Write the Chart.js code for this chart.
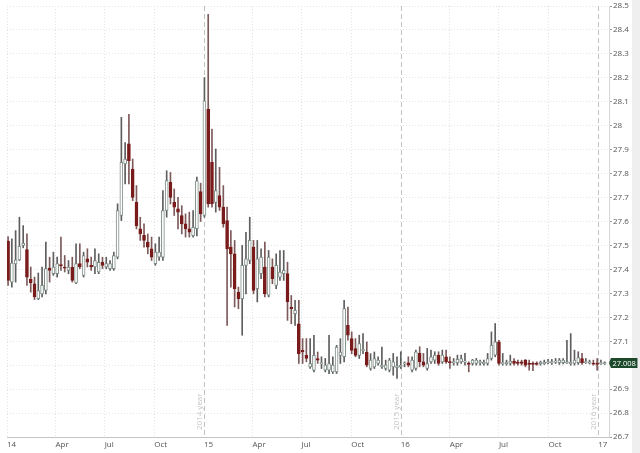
<!DOCTYPE html>
<html>
<head>
<meta charset="utf-8">
<script src="https://cdn.jsdelivr.net/npm/chart.js@4.4.1/dist/chart.umd.min.js"></script>
<style>
  html, body { margin: 0; padding: 0; background: #fff; }
  canvas { display: block; }
</style>
</head>
<body>
<canvas id="grafico" width="640" height="453"></canvas>
<script>
// weekly candles, first week starting 2014-01-03
const firstWeek = '2014-01-03';

const opens = [
  27.518, 27.347, 27.423, 27.44, 27.5, 27.483, 27.358, 27.34, 27.278, 27.298,
  27.312, 27.405, 27.382, 27.382, 27.42, 27.41, 27.396, 27.41, 27.343, 27.424,
  27.375, 27.444, 27.417, 27.41, 27.389, 27.43, 27.41, 27.403, 27.403, 27.451,
  27.625, 27.84, 27.924, 27.819, 27.68, 27.569, 27.542, 27.514, 27.486, 27.424,
  27.451, 27.451, 27.646, 27.764, 27.68, 27.653, 27.625, 27.59, 27.569, 27.541,
  27.57, 27.725, 27.625, 28.069, 27.847, 27.68, 27.708, 27.66, 27.604, 27.493,
  27.465, 27.305, 27.278, 27.417, 27.437, 27.493, 27.319, 27.382, 27.41, 27.292,
  27.41, 27.333, 27.368, 27.382, 27.382, 27.243, 27.215, 27.173, 27.062, 27.041,
  26.993, 26.979, 27.028, 27.007, 26.979, 26.979, 26.972, 26.972, 27.041, 27.035,
  27.166, 27.111, 27.069, 27.041, 27.062, 27.055, 26.986, 26.993, 27.007, 26.993,
  26.986, 26.979, 26.993, 26.99, 26.993, 27.005, 27.01, 26.979, 26.986, 27.049,
  27.014, 26.986, 27.014, 27.021, 27.042, 27.014, 27.035, 27.014, 27.012, 27.01,
  27.014, 27.014, 27.007, 27.007, 27.007, 27.012, 27.008, 27.007, 27.028, 27.042,
  27.097, 27.007, 27.008, 27.007, 27.017, 27.012, 27.014, 27.021, 27.007, 27.007,
  27.007, 27.008, 27.008, 27.012, 27.012, 27.014, 27.01, 27.01, 27.01, 27.008,
  27.007, 27.01, 27.028, 27.012, 27.01, 27.008, 27.007, 27.007, 27.008
];
const highs = [
  27.537, 27.528, 27.562, 27.618, 27.583, 27.548, 27.41, 27.368, 27.385, 27.41,
  27.514, 27.451, 27.472, 27.451, 27.535, 27.458, 27.437, 27.451, 27.507, 27.507,
  27.472, 27.486, 27.451, 27.486, 27.465, 27.451, 27.451, 27.437, 27.472, 27.674,
  28.035, 27.93, 28.048, 27.861, 27.75, 27.618, 27.59, 27.548, 27.535, 27.507,
  27.535, 27.729, 27.812, 27.805, 27.736, 27.701, 27.666, 27.632, 27.639, 27.646,
  27.785, 27.76, 28.201, 28.465, 27.986, 27.903, 27.826, 27.75, 27.66, 27.562,
  27.521, 27.326, 27.5, 27.555, 27.618, 27.521, 27.521, 27.486, 27.514, 27.479,
  27.444, 27.465, 27.479, 27.479, 27.43, 27.291, 27.271, 27.271, 27.111, 27.111,
  27.111, 27.125, 27.055, 27.035, 27.028, 27.125, 27.035, 27.083, 27.111, 27.271,
  27.243, 27.139, 27.111, 27.125, 27.132, 27.097, 27.048, 27.055, 27.035, 27.076,
  27.021, 27.028, 27.049, 27.035, 27.056, 27.014, 27.035, 27.035, 27.063, 27.077,
  27.049, 27.07, 27.063, 27.056, 27.056, 27.063, 27.063, 27.035, 27.028, 27.042,
  27.042, 27.049, 27.014, 27.024, 27.028, 27.021, 27.021, 27.049, 27.139, 27.174,
  27.104, 27.049, 27.021, 27.042, 27.028, 27.021, 27.021, 27.024, 27.021, 27.014,
  27.014, 27.017, 27.021, 27.024, 27.024, 27.028, 27.028, 27.028, 27.104, 27.132,
  27.063, 27.056, 27.049, 27.028, 27.021, 27.021, 27.028, 27.021, 27.014
];
const lows = [
  27.333, 27.326, 27.347, 27.437, 27.49, 27.333, 27.305, 27.274, 27.274, 27.285,
  27.298, 27.347, 27.375, 27.368, 27.396, 27.389, 27.382, 27.347, 27.34, 27.403,
  27.368, 27.41, 27.396, 27.382, 27.382, 27.403, 27.403, 27.396, 27.396, 27.444,
  27.604, 27.757, 27.757, 27.687, 27.569, 27.521, 27.493, 27.465, 27.437, 27.417,
  27.437, 27.437, 27.618, 27.673, 27.625, 27.569, 27.548, 27.535, 27.535, 27.535,
  27.54, 27.6, 27.618, 27.66, 27.66, 27.639, 27.646, 27.576, 27.166, 27.326,
  27.243, 27.236, 27.125, 27.298, 27.424, 27.298, 27.264, 27.361, 27.285, 27.285,
  27.34, 27.319, 27.354, 27.354, 27.187, 27.173, 27.166, 27.007, 27.007, 27.014,
  26.986, 26.972, 27.007, 26.986, 26.972, 26.965, 26.965, 26.965, 27.007, 27.014,
  27.104, 27.048, 27.035, 27.028, 27.048, 26.993, 26.979, 26.986, 27.0, 26.986,
  26.979, 26.972, 26.958, 26.945, 26.986, 26.993, 26.993, 26.972, 26.979, 26.993,
  26.993, 26.979, 27.007, 27.007, 27.0, 27.007, 27.007, 26.986, 27.0, 27.0,
  27.007, 27.0, 26.972, 27.0, 27.0, 27.0, 27.0, 27.0, 27.021, 27.035,
  27.0, 27.0, 27.0, 27.0, 27.0, 27.0, 27.0, 26.993, 26.979, 26.977,
  27.0, 27.0, 27.003, 27.005, 27.003, 27.007, 27.003, 27.005, 27.007, 27.0,
  27.0, 27.003, 27.003, 27.007, 27.005, 27.0, 26.979, 27.003, 27.003
];
const closes = [
  27.354, 27.426, 27.44, 27.496, 27.51, 27.368, 27.344, 27.285, 27.312, 27.333,
  27.403, 27.396, 27.41, 27.424, 27.414, 27.405, 27.41, 27.354, 27.424, 27.41,
  27.458, 27.43, 27.41, 27.437, 27.43, 27.417, 27.424, 27.424, 27.458, 27.646,
  27.847, 27.861, 27.854, 27.701, 27.583, 27.548, 27.521, 27.493, 27.451, 27.472,
  27.472, 27.646, 27.771, 27.701, 27.66, 27.639, 27.59, 27.569, 27.555, 27.576,
  27.77, 27.632, 28.104, 27.673, 27.673, 27.729, 27.66, 27.59, 27.486, 27.465,
  27.319, 27.278, 27.417, 27.444, 27.521, 27.312, 27.444, 27.451, 27.298, 27.451,
  27.361, 27.417, 27.389, 27.396, 27.264, 27.236, 27.229, 27.048, 27.055, 27.028,
  27.007, 27.041, 27.021, 27.01, 27.0, 27.007, 27.0, 27.076, 27.055, 27.236,
  27.125, 27.062, 27.041, 27.09, 27.065, 27.0, 27.021, 27.028, 27.021, 27.0,
  27.0, 27.021, 27.014, 26.997, 27.0, 27.01, 27.0, 27.021, 27.056, 27.014,
  27.0, 27.007, 27.035, 27.042, 27.007, 27.042, 27.014, 27.012, 27.014, 27.024,
  27.028, 27.016, 27.005, 27.021, 27.021, 27.014, 27.01, 27.028, 27.083, 27.097,
  27.007, 27.01, 27.01, 27.017, 27.007, 27.008, 27.007, 27.0, 27.005, 27.005,
  27.005, 27.01, 27.01, 27.014, 27.014, 27.016, 27.021, 27.021, 27.012, 27.01,
  27.021, 27.032, 27.01, 27.014, 27.012, 27.005, 27.005, 27.01, 27.008
];

// x axis: quarter ticks
const tickDates = [
  '2014-01-01', '2014-04-01', '2014-07-01', '2014-10-01',
  '2015-01-01', '2015-04-01', '2015-07-01', '2015-10-01',
  '2016-01-01', '2016-04-01', '2016-07-01', '2016-10-01', '2017-01-01'
];
const tickLabels = ['14', 'Apr', 'Jul', 'Oct', '15', 'Apr', 'Jul', 'Oct', '16', 'Apr', 'Jul', 'Oct', '17'];

// year separators
const yearLines = ['2015-01-01', '2016-01-01', '2017-01-01'];
const yearTexts = ['2014 year', '2015 year', '2016 year'];

const DAY = 86400000;
const origin = Date.parse('2014-01-01');
const dayOf = d => (Date.parse(d) - origin) / DAY;

const weekDays = opens.map((_, i) => dayOf(firstWeek) + 7 * i);
const isUp = opens.map((o, i) => closes[i] >= o);

const UP_LINE = '#7f8e86';
const DOWN = '#7a1b1b';

const wickData = weekDays.map((x, i) => ({
  x: x,
  y: [Math.min(lows[i], opens[i], closes[i]), Math.max(highs[i], opens[i], closes[i])]
}));
const bodyData = weekDays.map((x, i) => {
  let lo = Math.min(opens[i], closes[i]);
  let hi = Math.max(opens[i], closes[i]);
  if (hi - lo < 0.005) { // doji: keep a visible tick
    const m = (hi + lo) / 2;
    lo = m - 0.0025; hi = m + 0.0025;
  }
  return { x: x, y: [lo, hi] };
});

const background = {
  id: 'background',
  beforeDraw(chart) {
    const c = chart.ctx;
    c.save();
    c.fillStyle = '#ffffff';
    c.fillRect(0, 0, chart.width, chart.height);
    c.fillStyle = '#efefef';
    c.fillRect(632, 0, chart.width - 632, chart.height);
    c.restore();
  }
};

const yearMarks = {
  id: 'yearMarks',
  beforeDatasetsDraw(chart) {
    const c = chart.ctx, area = chart.chartArea, xs = chart.scales.x;
    c.save();
    yearLines.forEach((d, i) => {
      const px = Math.round(xs.getPixelForValue(dayOf(d))) + 0.5;
      c.strokeStyle = '#c2c2c2';
      c.lineWidth = 1;
      c.setLineDash([5, 3]);
      c.beginPath();
      c.moveTo(px, area.top);
      c.lineTo(px, area.bottom);
      c.stroke();
      c.setLineDash([]);
      c.save();
      c.translate(px - 1, area.bottom - 7);
      c.rotate(-Math.PI / 2);
      c.fillStyle = '#c4c4c4';
      c.font = '8px "Open Sans", sans-serif';
      c.textAlign = 'left';
      c.textBaseline = 'bottom';
      c.fillText(yearTexts[i], 0, 0);
      c.restore();
    });
    c.restore();
  }
};

const lastPrice = {
  id: 'lastPrice',
  afterDraw(chart) {
    const c = chart.ctx, ys = chart.scales.y, area = chart.chartArea;
    const v = closes[closes.length - 1];
    const py = Math.round(ys.getPixelForValue(v));
    const txt = v.toFixed(3);
    c.save();
    c.font = '7.5px "Open Sans", sans-serif';
    const w = c.measureText(txt).width + 3;
    const x0 = area.right + 2;
    c.fillStyle = '#1d4a2b';
    c.beginPath();
    c.moveTo(x0 - 2, py);
    c.lineTo(x0, py - 5);
    c.lineTo(x0 + w, py - 5);
    c.lineTo(x0 + w, py + 5);
    c.lineTo(x0, py + 5);
    c.closePath();
    c.fill();
    c.fillStyle = '#ffffff';
    c.textAlign = 'left';
    c.textBaseline = 'middle';
    c.fillText(txt, x0 + 1.5, py + 0.5);
    c.restore();
  }
};

const ctx = document.getElementById('grafico').getContext('2d');

new Chart(ctx, {
  type: 'bar',
  data: {
    datasets: [
      {
        label: 'body',
        data: bodyData,
        order: 1,
        grouped: false,
        barThickness: 3,
        borderWidth: 1,
        borderSkipped: false,
        backgroundColor: isUp.map(u => u ? '#ffffff' : DOWN),
        borderColor: isUp.map(u => u ? UP_LINE : DOWN)
      },
      {
        label: 'wick',
        data: wickData,
        order: 2,
        grouped: false,
        barThickness: 1,
        borderWidth: 0,
        backgroundColor: isUp.map(u => u ? '#5e5e5e' : '#7d5a5a')
      }
    ]
  },
  options: {
    responsive: false,
    animation: false,
    layout: { padding: { left: 7, top: 6, right: 0, bottom: 0 } },
    plugins: {
      legend: { display: false },
      tooltip: { enabled: false }
    },
    scales: {
      x: {
        type: 'linear',
        min: 0,
        max: 1116,
        offset: false,
        grid: {
          offset: false,
          drawTicks: false,
          color: ctx => (ctx.tick && yearLines.some(d => dayOf(d) === ctx.tick.value)) ? 'rgba(0,0,0,0)' : '#e4e4e4'
        },
        border: { display: true, color: '#c4c4c4', dash: [1, 2] },
        afterBuildTicks: scale => { scale.ticks = tickDates.map(d => ({ value: dayOf(d) })); },
        afterFit: scale => { scale.height = 16; },
        ticks: {
          autoSkip: false,
          maxRotation: 0,
          align: 'start',
          padding: 3,
          color: '#555',
          font: { family: '"Open Sans", sans-serif', size: 8 },
          callback: (v, i) => tickLabels[i]
        }
      },
      y: {
        position: 'right',
        min: 26.7,
        max: 28.5,
        beginAtZero: false,
        grid: { color: '#e4e4e4', tickLength: 3, tickColor: '#9a9a9a' },
        border: { display: true, color: '#d6d6d6', dash: [1, 2] },
        afterFit: scale => { scale.width = 31; },
        ticks: {
          stepSize: 0.1,
          padding: 1,
          color: '#555',
          font: { family: '"Open Sans", sans-serif', size: 8 },
          callback: v => String(Number(v.toFixed(1)))
        }
      }
    }
  },
  plugins: [background, yearMarks, lastPrice]
});
</script>
</body>
</html>
